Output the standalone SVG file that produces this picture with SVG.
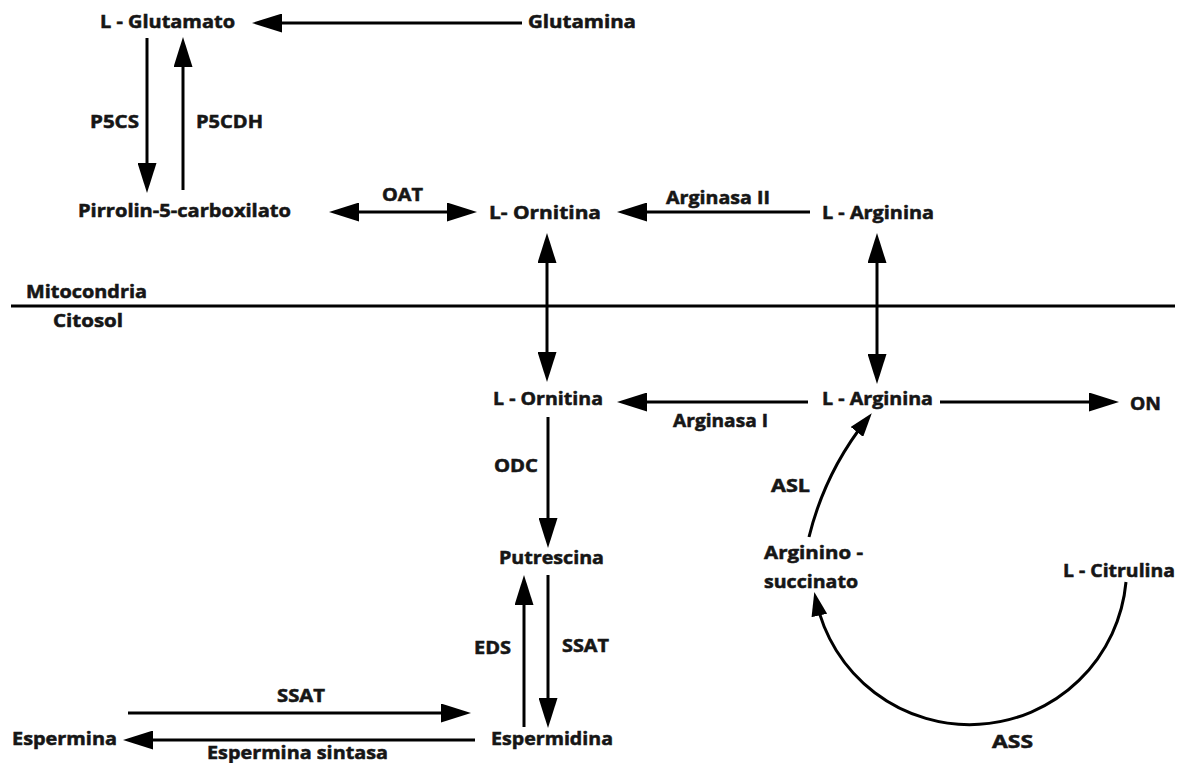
<svg xmlns="http://www.w3.org/2000/svg" width="1184" height="763" viewBox="0 0 1184 763">
<style>
.t { font-family: "Open Sans", "Liberation Sans", sans-serif; font-weight: 700; font-size: 18.5px; fill: #161616; stroke: #161616; stroke-width: 0.55; }
.c { stroke: #000; stroke-width: 3; fill: none; }
</style>
<defs>
<marker id="ah" markerUnits="userSpaceOnUse" markerWidth="30" markerHeight="19" viewBox="0 0 30 19" refX="20" refY="9.5" orient="auto-start-reverse"><path d="M0,0 L30,9.5 L0,19 z" fill="#000"/></marker>
<marker id="ahc" markerUnits="userSpaceOnUse" markerWidth="24" markerHeight="16" viewBox="0 0 24 16" refX="15" refY="8" orient="auto"><path d="M0,0 L24,8 L0,16 z" fill="#000"/></marker>
</defs>
<rect width="1184" height="763" fill="#fff"/>

<g id="compartments">
<line class="c" x1="11" y1="306" x2="1175" y2="306"/>
<text class="t" x="26" y="298" textLength="121" lengthAdjust="spacingAndGlyphs">Mitocondria</text>
<text class="t" x="53" y="327" textLength="70" lengthAdjust="spacingAndGlyphs">Citosol</text>
</g>

<g id="connectors">
<line class="c" x1="522" y1="23" x2="262" y2="23" marker-end="url(#ah)"/>
<line class="c" x1="147" y1="38" x2="147" y2="183" marker-end="url(#ah)"/>
<line class="c" x1="183" y1="190" x2="183" y2="47" marker-end="url(#ah)"/>
<line class="c" x1="339" y1="212" x2="467" y2="212" marker-start="url(#ah)" marker-end="url(#ah)"/>
<line class="c" x1="810" y1="212" x2="627" y2="212" marker-end="url(#ah)"/>
<line class="c" x1="547" y1="243" x2="547" y2="372" marker-start="url(#ah)" marker-end="url(#ah)"/>
<line class="c" x1="877" y1="243" x2="877" y2="374" marker-start="url(#ah)" marker-end="url(#ah)"/>
<line class="c" x1="808" y1="402" x2="627" y2="402" marker-end="url(#ah)"/>
<line class="c" x1="940" y1="402" x2="1109" y2="402" marker-end="url(#ah)"/>
<line class="c" x1="548" y1="417" x2="548" y2="538" marker-end="url(#ah)"/>
<line class="c" x1="524" y1="727" x2="524" y2="585" marker-end="url(#ah)"/>
<line class="c" x1="548" y1="575" x2="548" y2="718" marker-end="url(#ah)"/>
<line class="c" x1="128" y1="713" x2="461" y2="713" marker-end="url(#ah)"/>
<line class="c" x1="475" y1="740" x2="133" y2="740" marker-end="url(#ah)"/>
<path class="c" d="M1126,582 A157,157 0 0 1 816.2,600.8" marker-end="url(#ahc)"/>
<path class="c" d="M809,537 A305,305 0 0 1 866.2,420.2" marker-end="url(#ahc)"/>
</g>

<g id="enzyme-labels">
<text class="t" x="90" y="128" textLength="49" lengthAdjust="spacingAndGlyphs">P5CS</text>
<text class="t" x="196" y="128" textLength="67" lengthAdjust="spacingAndGlyphs">P5CDH</text>
<text class="t" x="382" y="201" textLength="41" lengthAdjust="spacingAndGlyphs">OAT</text>
<text class="t" x="666" y="204" textLength="104" lengthAdjust="spacingAndGlyphs">Arginasa II</text>
<text class="t" x="673" y="427" textLength="95" lengthAdjust="spacingAndGlyphs">Arginasa I</text>
<text class="t" x="494" y="472" textLength="44" lengthAdjust="spacingAndGlyphs">ODC</text>
<text class="t" x="474" y="654" textLength="37" lengthAdjust="spacingAndGlyphs">EDS</text>
<text class="t" x="562" y="652" textLength="47" lengthAdjust="spacingAndGlyphs">SSAT</text>
<text class="t" x="277" y="702" textLength="48" lengthAdjust="spacingAndGlyphs">SSAT</text>
<text class="t" x="207" y="759" textLength="181" lengthAdjust="spacingAndGlyphs">Espermina sintasa</text>
<text class="t" x="771" y="492" textLength="39" lengthAdjust="spacingAndGlyphs">ASL</text>
<text class="t" x="992" y="748" textLength="41" lengthAdjust="spacingAndGlyphs">ASS</text>
</g>

<g id="n-glutamato"><text class="t" x="100" y="28" textLength="135" lengthAdjust="spacingAndGlyphs">L - Glutamato</text></g>
<g id="n-glutamina"><text class="t" x="528" y="28" textLength="108" lengthAdjust="spacingAndGlyphs">Glutamina</text></g>
<g id="n-p5c"><text class="t" x="78" y="217" textLength="213" lengthAdjust="spacingAndGlyphs">Pirrolin-5-carboxilato</text></g>
<g id="n-ornitina-mito"><text class="t" x="489" y="219" textLength="112" lengthAdjust="spacingAndGlyphs">L- Ornitina</text></g>
<g id="n-arginina-mito"><text class="t" x="822" y="219" textLength="112" lengthAdjust="spacingAndGlyphs">L - Arginina</text></g>
<g id="n-ornitina-cit"><text class="t" x="493" y="405" textLength="110" lengthAdjust="spacingAndGlyphs">L - Ornitina</text></g>
<g id="n-arginina-cit"><text class="t" x="822" y="405" textLength="111" lengthAdjust="spacingAndGlyphs">L - Arginina</text></g>
<g id="n-on"><text class="t" x="1130" y="410" textLength="31" lengthAdjust="spacingAndGlyphs">ON</text></g>
<g id="n-putrescina"><text class="t" x="499" y="564" textLength="105" lengthAdjust="spacingAndGlyphs">Putrescina</text></g>
<g id="n-espermidina"><text class="t" x="491" y="745" textLength="122" lengthAdjust="spacingAndGlyphs">Espermidina</text></g>
<g id="n-espermina"><text class="t" x="12" y="745" textLength="105" lengthAdjust="spacingAndGlyphs">Espermina</text></g>
<g id="n-argininosuccinato">
<text class="t" x="764" y="559" textLength="99" lengthAdjust="spacingAndGlyphs">Arginino -</text>
<text class="t" x="764" y="588" textLength="94" lengthAdjust="spacingAndGlyphs">succinato</text>
</g>
<g id="n-citrulina"><text class="t" x="1063" y="577" textLength="112" lengthAdjust="spacingAndGlyphs">L - Citrulina</text></g>
</svg>
